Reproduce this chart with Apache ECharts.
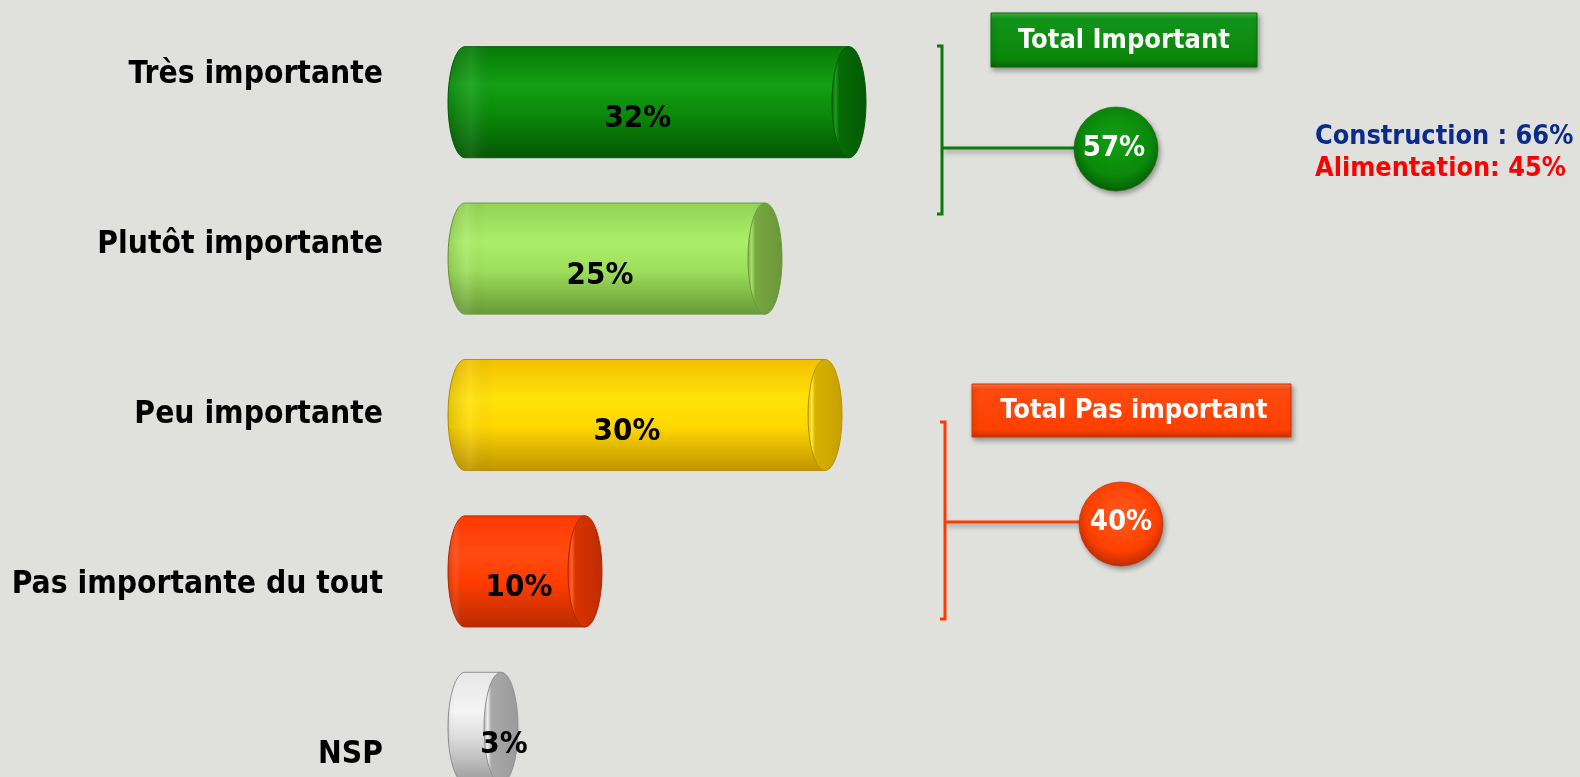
<!DOCTYPE html>
<html><head><meta charset="utf-8">
<script src="https://cdn.jsdelivr.net/npm/echarts@6/dist/echarts.min.js"></script>
<style>html,body{margin:0;padding:0;background:#e0e1dc;}#c{width:1580px;height:777px;}</style>
</head><body><div id="c"></div>
<script>
// ---- data ----
const categories = ['Très importante', 'Plutôt importante', 'Peu importante', 'Pas importante du tout', 'NSP'];
const values = [32, 25, 30, 10, 3];
const totalLabels = ['Total Important', 'Total Pas important'];
const totalValues = [57, 40];
const sectorNames = ['Construction', 'Alimentation'];
const sectorValues = [66, 45];

// ---- styles ----
const FONT = '"DejaVu Sans Condensed", "DejaVu Sans", sans-serif';
const palette = [
  {top:'#077a07', hi:'#14a014', mid:'#0a8a0a', bot:'#045604', capL:'#1a9a1a', capM:'#066a06', capD:'#045a04', edge:'#055a05'},
  {top:'#92d354', hi:'#acee68', mid:'#9ee05c', bot:'#679a36', capL:'#a8e070', capM:'#78a842', capD:'#6a9638', edge:'#6a9a3a'},
  {top:'#f2c000', hi:'#ffe20c', mid:'#ffd800', bot:'#c09400', capL:'#ffe840', capM:'#d8b000', capD:'#c8a000', edge:'#b89000'},
  {top:'#ff3a00', hi:'#ff4a12', mid:'#ff3c00', bot:'#b82c00', capL:'#ff6030', capM:'#d83400', capD:'#c02c00', edge:'#b02800'},
  {top:'#e6e6e6', hi:'#f4f4f4', mid:'#dcdcdc', bot:'#9a9a9a', capL:'#f0f0f0', capM:'#a8a8a8', capD:'#9a9a9a', edge:'#909090'}
];

function ellipsePath(cx, cy, rx, ry) {
  const k = 0.5523;
  return `M${cx - rx} ${cy} C${cx - rx} ${cy - ry * k} ${cx - rx * k} ${cy - ry} ${cx} ${cy - ry} ` +
    `C${cx + rx * k} ${cy - ry} ${cx + rx} ${cy - ry * k} ${cx + rx} ${cy} ` +
    `C${cx + rx} ${cy + ry * k} ${cx + rx * k} ${cy + ry} ${cx} ${cy + ry} ` +
    `C${cx - rx * k} ${cy + ry} ${cx - rx} ${cy + ry * k} ${cx - rx} ${cy} Z`;
}

function renderCylinder(params, api) {
  const v = api.value(0), idx = api.value(1);
  const p0 = api.coord([0, idx]);
  const p1 = api.coord([v, idx]);
  const band = api.size([0, 1])[1];
  const h = band * 0.71;
  const rx = 17, ry = h / 2;
  const x0 = p0[0], x1 = p1[0], cy = p0[1];
  const top = cy - ry, bot = cy + ry, k = 0.5523;
  const pal = palette[idx % palette.length];
  const body = `M${x0} ${top} L${x1} ${top} L${x1} ${bot} L${x0} ${bot} ` +
    `C${x0 - rx * k} ${bot} ${x0 - rx} ${cy + ry * k} ${x0 - rx} ${cy} ` +
    `C${x0 - rx} ${cy - ry * k} ${x0 - rx * k} ${top} ${x0} ${top} Z`;
  const len = x1 - x0;
  const lx = x0 + Math.max(len * 0.45, 39);
  return {
    type: 'group',
    children: [
      {type: 'path', shape: {pathData: body}, style: {
        fill: {type: 'linear', x: 0, y: 0, x2: 0, y2: 1, colorStops: [
          {offset: 0, color: pal.top}, {offset: 0.35, color: pal.hi}, {offset: 0.6, color: pal.mid}, {offset: 1, color: pal.bot}]},
        stroke: pal.edge, lineWidth: 1}},
      {type: 'path', shape: {pathData: body}, style: {
        fill: {type: 'linear', x: 0, y: 0, x2: 1, y2: 0, colorStops: [
          {offset: 0, color: 'rgba(0,0,0,0.12)'}, {offset: 0.06, color: 'rgba(255,255,255,0.08)'}, {offset: 0.12, color: 'rgba(0,0,0,0)'}, {offset: 1, color: 'rgba(0,0,0,0)'}]}}},
      {type: 'path', shape: {pathData: ellipsePath(x1, cy, rx, ry)}, style: {
        fill: {type: 'linear', x: 0, y: 0, x2: 1, y2: 0, colorStops: [
          {offset: 0, color: pal.capM}, {offset: 0.12, color: pal.capL}, {offset: 0.22, color: pal.capM}, {offset: 1, color: pal.capD}]},
        stroke: pal.edge, lineWidth: 1}},
      {type: 'text', style: {text: v + '%', x: lx, y: cy + 17, fill: '#000',
        font: 'bold 31px ' + FONT, align: 'center', verticalAlign: 'middle', textAlign: 'center', textVerticalAlign: 'middle'}}
    ]
  };
}

const chart = echarts.init(document.getElementById('c'), null, {renderer: 'canvas'});

const greenBox = {type: 'linear', x: 0, y: 0, x2: 0, y2: 1, colorStops: [
  {offset: 0, color: '#3cbf3c'}, {offset: 0.12, color: '#12941a'}, {offset: 0.85, color: '#0a860a'}, {offset: 1, color: '#066406'}]};
const redBox = {type: 'linear', x: 0, y: 0, x2: 0, y2: 1, colorStops: [
  {offset: 0, color: '#ff7a48'}, {offset: 0.12, color: '#ff4a10'}, {offset: 0.85, color: '#ff4000'}, {offset: 1, color: '#c83000'}]};
const greenBall = {type: 'radial', x: 0.5, y: 0.4, r: 0.6, colorStops: [
  {offset: 0, color: '#14a014'}, {offset: 0.7, color: '#0a880a'}, {offset: 1, color: '#056005'}]};
const redBall = {type: 'radial', x: 0.5, y: 0.4, r: 0.6, colorStops: [
  {offset: 0, color: '#ff5a20'}, {offset: 0.7, color: '#ff4000'}, {offset: 1, color: '#c02c00'}]};
const shadow = {shadowBlur: 5, shadowOffsetX: 2, shadowOffsetY: 3, shadowColor: 'rgba(0,0,0,0.35)'};

function txt(text, x, y, fill, size, align) {
  return {type: 'text', z: 20, style: {text: text, x: x, y: y, fill: fill, font: 'bold ' + size + 'px ' + FONT,
    textAlign: align || 'center', textVerticalAlign: 'middle', align: align || 'center', verticalAlign: 'middle'}};
}

chart.setOption({
  backgroundColor: '#e0e1dc',
  animation: false,
  grid: [
    {left: 465, width: 960, top: 24, height: 782, outerBoundsMode: 'none', containLabel: false},
    {left: 395, width: 100, top: -10, height: 850, outerBoundsMode: 'none', containLabel: false}
  ],
  xAxis: [
    {gridIndex: 0, type: 'value', min: 0, max: 80, show: false},
    {gridIndex: 1, type: 'value', min: 0, max: 1, show: false}
  ],
  yAxis: [
    {gridIndex: 0, type: 'category', data: categories, inverse: true, show: false},
    {gridIndex: 1, type: 'category', data: categories, inverse: true,
      axisLine: {show: false}, axisTick: {show: false}, splitLine: {show: false},
      axisLabel: {margin: 12, color: '#000', fontSize: 31.5, fontWeight: 'bold', fontFamily: FONT}}
  ],
  series: [{
    type: 'custom', xAxisIndex: 0, yAxisIndex: 0,
    renderItem: renderCylinder,
    encode: {x: 0, y: 1},
    data: values.map((v, i) => [v, i])
  }],
  graphic: [
    // Total Important group
    {type: 'polyline', shape: {points: [[937, 46], [942, 46], [942, 214], [937, 214]]}, style: {stroke: '#0a7c0a', lineWidth: 3, fill: null}},
    {type: 'line', shape: {x1: 942, y1: 148, x2: 1080, y2: 148}, style: Object.assign({stroke: '#0a7c0a', lineWidth: 3}, shadow)},
    {type: 'rect', shape: {x: 991, y: 13, width: 266, height: 54}, style: Object.assign({fill: greenBox, stroke: '#066a06', lineWidth: 1}, shadow)},
    txt(totalLabels[0], 1124, 41, '#fff', 27),
    {type: 'circle', z: 10, shape: {cx: 1116, cy: 149, r: 42}, style: Object.assign({fill: greenBall, stroke: '#05600588', lineWidth: 1}, shadow)},
    txt(totalValues[0] + '%', 1114, 148, '#fff', 29),
    txt(sectorNames[0] + ' : ' + sectorValues[0] + '%', 1315, 137, '#0b2b8c', 26.8, 'left'),
    txt(sectorNames[1] + ': ' + sectorValues[1] + '%', 1315, 169, '#ff0000', 26.8, 'left'),
    // Total Pas important group
    {type: 'polyline', shape: {points: [[940, 422], [945, 422], [945, 619], [940, 619]]}, style: {stroke: '#ff3a00', lineWidth: 3, fill: null}},
    {type: 'line', shape: {x1: 945, y1: 522, x2: 1082, y2: 522}, style: Object.assign({stroke: '#ff3a00', lineWidth: 3}, shadow)},
    {type: 'rect', shape: {x: 972, y: 384, width: 319, height: 53}, style: Object.assign({fill: redBox, stroke: '#d03400', lineWidth: 1}, shadow)},
    txt(totalLabels[1], 1134, 411, '#fff', 27),
    {type: 'circle', z: 10, shape: {cx: 1121, cy: 524, r: 42}, style: Object.assign({fill: redBall, stroke: '#b0280088', lineWidth: 1}, shadow)},
    txt(totalValues[1] + '%', 1121, 522, '#fff', 29)
  ]
});
</script></body></html>
